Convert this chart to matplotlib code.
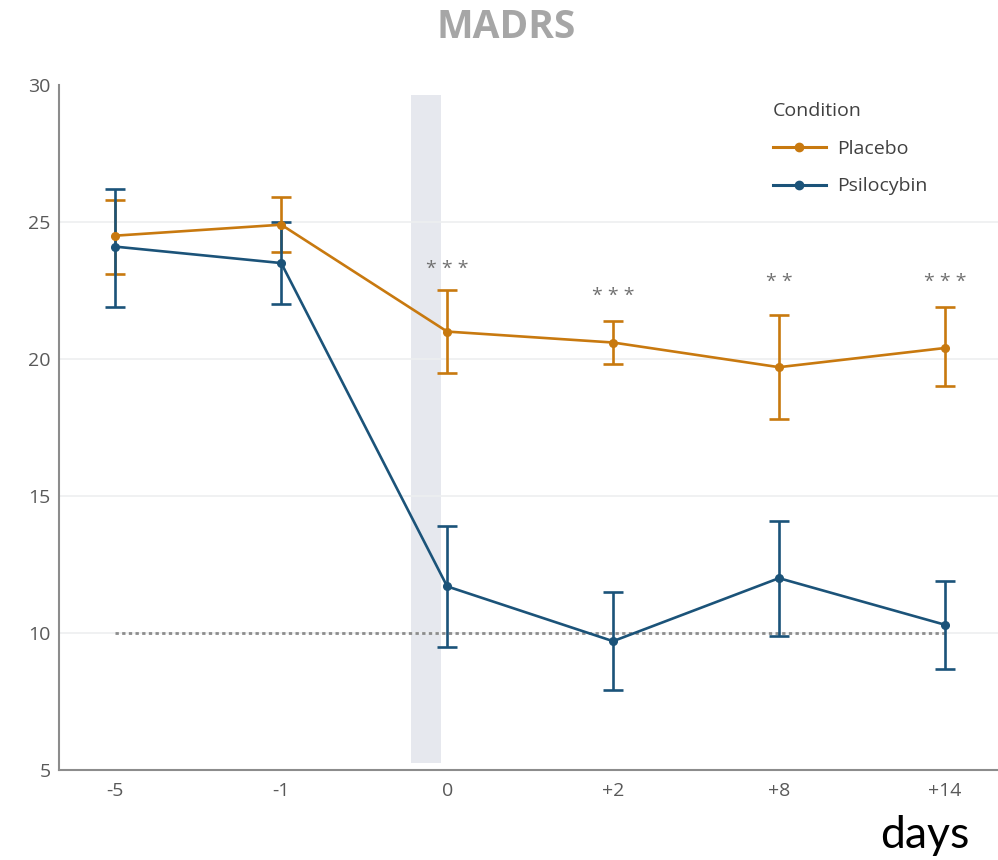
import numpy as np
import matplotlib
matplotlib.use("Agg")
import matplotlib.pyplot as plt
from matplotlib.lines import Line2D

plt.rcParams['font.family'] = ['Open Sans', 'DejaVu Sans']

days = ['-5', '-1', '0', '+2', '+8', '+14']

placebo = [24.5, 24.9, 21.0, 20.6, 19.7, 20.4]
placebo_lo = [23.1, 23.9, 19.5, 19.8, 17.8, 19.0]
placebo_hi = [25.8, 25.9, 22.5, 21.4, 21.6, 21.9]

psilo = [24.1, 23.5, 11.7, 9.7, 12.0, 10.3]
psilo_lo = [21.9, 22.0, 9.5, 7.9, 9.9, 8.7]
psilo_hi = [26.2, 25.0, 13.9, 11.5, 14.1, 11.9]

stars = ['', '', '***', '***', '**', '***']
star_y = [0, 0, 23.3, 22.3, 22.8, 22.8]

remission = 10

orange = '#C8790F'
blue = '#1B5379'
grey = '#595959'

fig = plt.figure(figsize=(9.98, 8.6), dpi=100)
ax = fig.add_axes([0.059, 0.1047, 0.941, 0.7965])

x = np.arange(len(days))

# dosing session band
ax.axvspan(1.78, 1.96, ymin=0.01, ymax=0.985, color='#E6E8EE', lw=0, zorder=0)

for yv in [10, 15, 20, 25]:
    ax.axhline(yv, color='#EDEFF0', lw=1.2, zorder=0)

ax.plot([x[0], x[-1]], [remission, remission], color='#8C8C8C', lw=2,
        ls=(0, (1.2, 1.2)), zorder=1)

handles = []
for vals, lo, hi, c, lab in [(placebo, placebo_lo, placebo_hi, orange, 'Placebo'),
                             (psilo, psilo_lo, psilo_hi, blue, 'Psilocybin')]:
    vals = np.array(vals)
    err = [vals - np.array(lo), np.array(hi) - vals]
    ax.errorbar(x, vals, yerr=err, color=c, lw=1.9, elinewidth=1.9, capsize=7,
                capthick=1.9, marker='o', ms=5.5, zorder=3)
    handles.append(Line2D([], [], color=c, lw=2.2, marker='o', ms=6, label=lab))

for xi, s, yv in zip(x, stars, star_y):
    if s:
        ax.text(xi, yv, ' '.join(s), ha='center', va='center', fontsize=14,
                color='#707070')

ax.set_xlim(-0.34, 5.32)
ax.set_ylim(5, 30)
ax.set_xticks(x)
ax.set_xticklabels(days)
ax.set_yticks([5, 10, 15, 20, 25, 30])
ax.tick_params(length=0, labelsize=14, labelcolor=grey, pad=9)
ax.tick_params(axis='y', pad=6)

for side in ['top', 'right']:
    ax.spines[side].set_visible(False)
for side in ['left', 'bottom']:
    ax.spines[side].set_color('#8C8C8C')
    ax.spines[side].set_linewidth(1.5)

leg = ax.legend(handles=handles, title='Condition', loc='upper left',
                bbox_to_anchor=(0.742, 1.0), frameon=False, fontsize=14,
                title_fontsize=14, handlelength=2.7, handletextpad=0.6,
                labelspacing=1.0)
leg._legend_box.align = 'left'
for t in leg.get_texts():
    t.set_color('#404040')
leg.get_title().set_color('#404040')

fig.text(0.507, 0.968, 'MADRS', ha='center', va='center', fontsize=28,
         fontweight='bold', color='#A6A6A6')
fig.text(0.927, 0.028, 'days', ha='center', va='center', fontsize=32,
         color='black', family=['Lato', 'DejaVu Sans'])

fig.savefig('out.png', dpi=100)
